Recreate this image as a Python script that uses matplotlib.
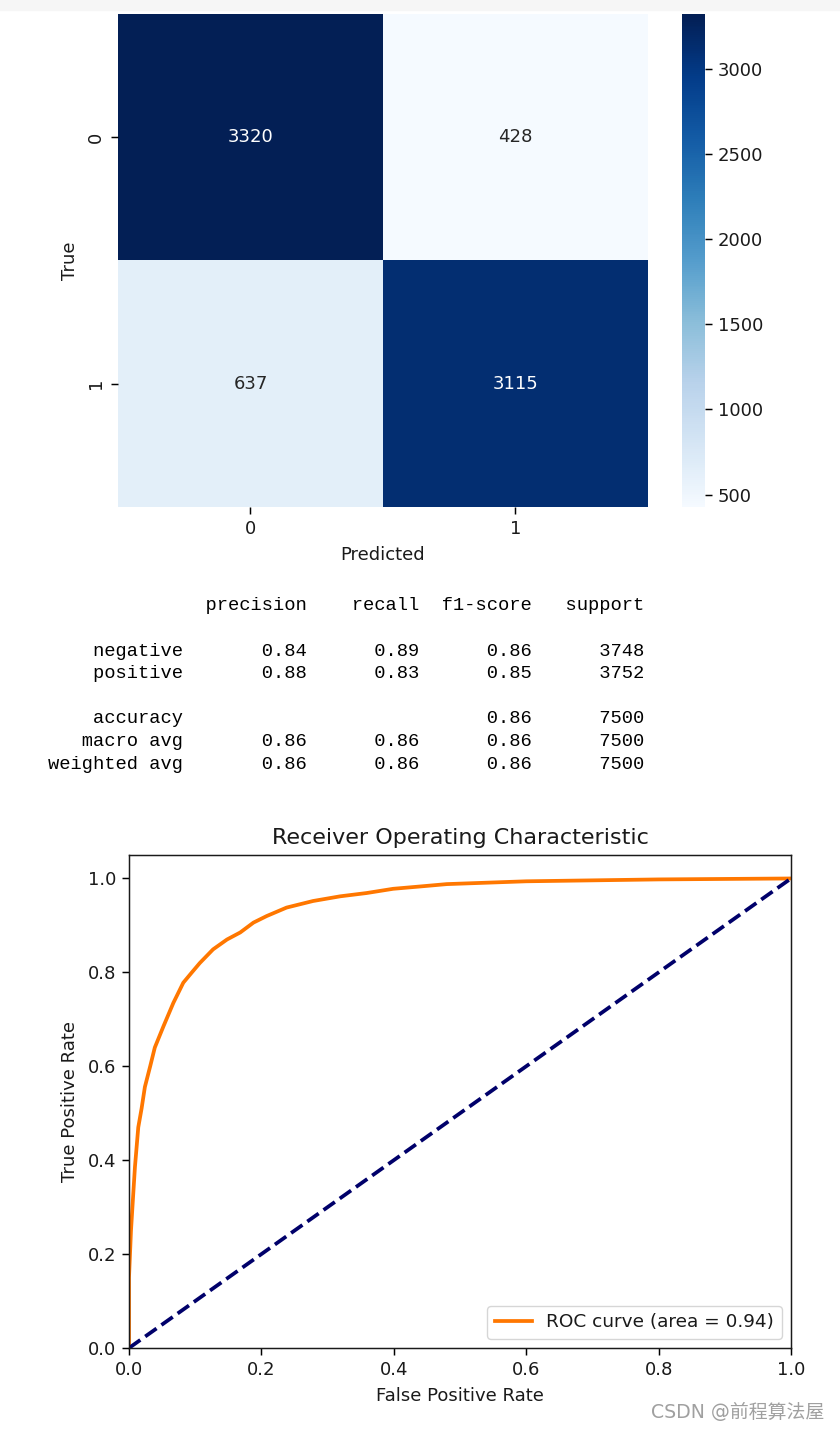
import numpy as np
import matplotlib
matplotlib.use("Agg")
import matplotlib.pyplot as plt
import matplotlib.colors as mcolors
import seaborn as sns
from matplotlib.patches import Rectangle

# ---------------- data ----------------
class_labels = ["0", "1"]
cm_row0 = [3320, 428]
cm_row1 = [637, 3115]

report_classes = ["negative", "positive"]
report_precision = [0.84, 0.88]
report_recall = [0.89, 0.83]
report_f1 = [0.86, 0.85]
report_support = [3748, 3752]
accuracy = 0.86
total_support = 7500
macro_avg = [0.86, 0.86, 0.86]
weighted_avg = [0.86, 0.86, 0.86]

fpr = [0.0, 0.0, 0.003, 0.0065, 0.009, 0.014, 0.019, 0.024, 0.032, 0.039, 0.052,
       0.067, 0.082, 0.095, 0.107, 0.127, 0.148, 0.168, 0.188, 0.208, 0.238,
       0.278, 0.319, 0.359, 0.399, 0.44, 0.48, 0.56, 0.6, 0.7, 0.8, 0.9, 1.0]
tpr = [0.0, 0.15, 0.25, 0.33, 0.386, 0.47, 0.51, 0.556, 0.60, 0.64, 0.685,
       0.735, 0.778, 0.80, 0.82, 0.849, 0.87, 0.885, 0.906, 0.92, 0.938,
       0.952, 0.962, 0.969, 0.978, 0.983, 0.988, 0.992, 0.994, 0.996, 0.998, 0.999, 1.0]
roc_auc = 0.94
diag_x = [0, 1]
diag_y = [0, 1]

# ---------------- styling helpers ----------------
GAMMA = 1.27

def shade(c):
    rgb = np.array(mcolors.to_rgb(c)) ** GAMMA
    return tuple(rgb)

blues = plt.get_cmap('Blues')(np.linspace(0, 1, 256))[:, :3] ** GAMMA
cmap_ref = mcolors.ListedColormap(blues, name='BluesRef')

# ---------------- figure ----------------
W, H = 840, 1430
fig = plt.figure(figsize=(W / 100, H / 100), dpi=100)
plt.rcParams['font.family'] = ['DejaVu Sans']
txt_col = '#1a1a1a'

def px_axes(x0, y0, x1, y1):
    return [x0 / W, 1 - y1 / H, (x1 - x0) / W, (y1 - y0) / H]

fig.add_artist(Rectangle((0, 1 - 10 / H), 1, 10 / H, transform=fig.transFigure,
                         color='#f6f6f6', zorder=-1))

tick_kw = dict(labelsize=13, length=4.7, width=1.07, pad=4.7, labelcolor=txt_col)

# confusion matrix heatmap
ax_hm = fig.add_axes(px_axes(118, 14, 648, 507))
ax_cb = fig.add_axes(px_axes(682, 14, 705, 507))
cm = np.array([cm_row0, cm_row1])
sns.heatmap(cm, annot=True, fmt='d', cmap=cmap_ref, ax=ax_hm, cbar_ax=ax_cb,
            annot_kws={'fontsize': 13}, xticklabels=class_labels,
            yticklabels=class_labels)
ax_hm.set_xlabel('Predicted', fontsize=13, labelpad=6, color=txt_col)
ax_hm.set_ylabel('True', fontsize=13, labelpad=6, color=txt_col)
ax_hm.tick_params(axis='both', **tick_kw)
for t in ax_hm.get_yticklabels():
    t.set_rotation(90)
    t.set_va('center')
ax_cb.tick_params(**tick_kw)
for s in ax_cb.spines.values():
    s.set_visible(False)

# classification report text
header = '{:>12}{:>11}{:>10}{:>10}{:>10}'.format('', 'precision', 'recall', 'f1-score', 'support')
rows = [header, '']
for name, p, r, f, s in zip(report_classes, report_precision, report_recall, report_f1, report_support):
    rows.append('{:>12}{:>11.2f}{:>10.2f}{:>10.2f}{:>10d}'.format(name, p, r, f, s))
rows.append('')
rows.append('{:>12}{:>11}{:>10}{:>10.2f}{:>10d}'.format('accuracy', '', '', accuracy, total_support))
rows.append('{:>12}{:>11.2f}{:>10.2f}{:>10.2f}{:>10d}'.format('macro avg', *macro_avg, total_support))
rows.append('{:>12}{:>11.2f}{:>10.2f}{:>10.2f}{:>10d}'.format('weighted avg', *weighted_avg, total_support))
y0 = 606
dy = 22.6
for i, line in enumerate(rows):
    if line:
        fig.text(47.5 / W, 1 - (y0 + i * dy) / H, line, family='Liberation Mono',
                 fontsize=13.47, va='center', ha='left', color='black')

# ROC curve
ax = fig.add_axes(px_axes(129, 855, 791, 1348))
ax.plot(fpr, tpr, color=shade('darkorange'), lw=2.7,
        label='ROC curve (area = %0.2f)' % roc_auc)
ax.plot(diag_x, diag_y, color=shade('navy'), lw=2.7, linestyle='--')
ax.set_xlim(0.0, 1.0)
ax.set_ylim(0.0, 1.05)
ax.set_xlabel('False Positive Rate', fontsize=13, labelpad=6, color=txt_col)
ax.set_ylabel('True Positive Rate', fontsize=13, labelpad=6, color=txt_col)
ax.set_title('Receiver Operating Characteristic', fontsize=16, pad=8, color=txt_col)
ax.tick_params(**tick_kw)
for s in ax.spines.values():
    s.set_linewidth(1.07)
    s.set_color(txt_col)
leg = ax.legend(loc='lower right', fontsize=13.3)
for t in leg.get_texts():
    t.set_color(txt_col)

fig.text(824 / W, 1 - 1412 / H, 'CSDN @前程算法屋', ha='right', va='center',
         fontsize=13.6, color='#a0a0a0',
         family=['DejaVu Sans', 'Noto Sans CJK SC'])

fig.savefig('out.png', dpi=100)
